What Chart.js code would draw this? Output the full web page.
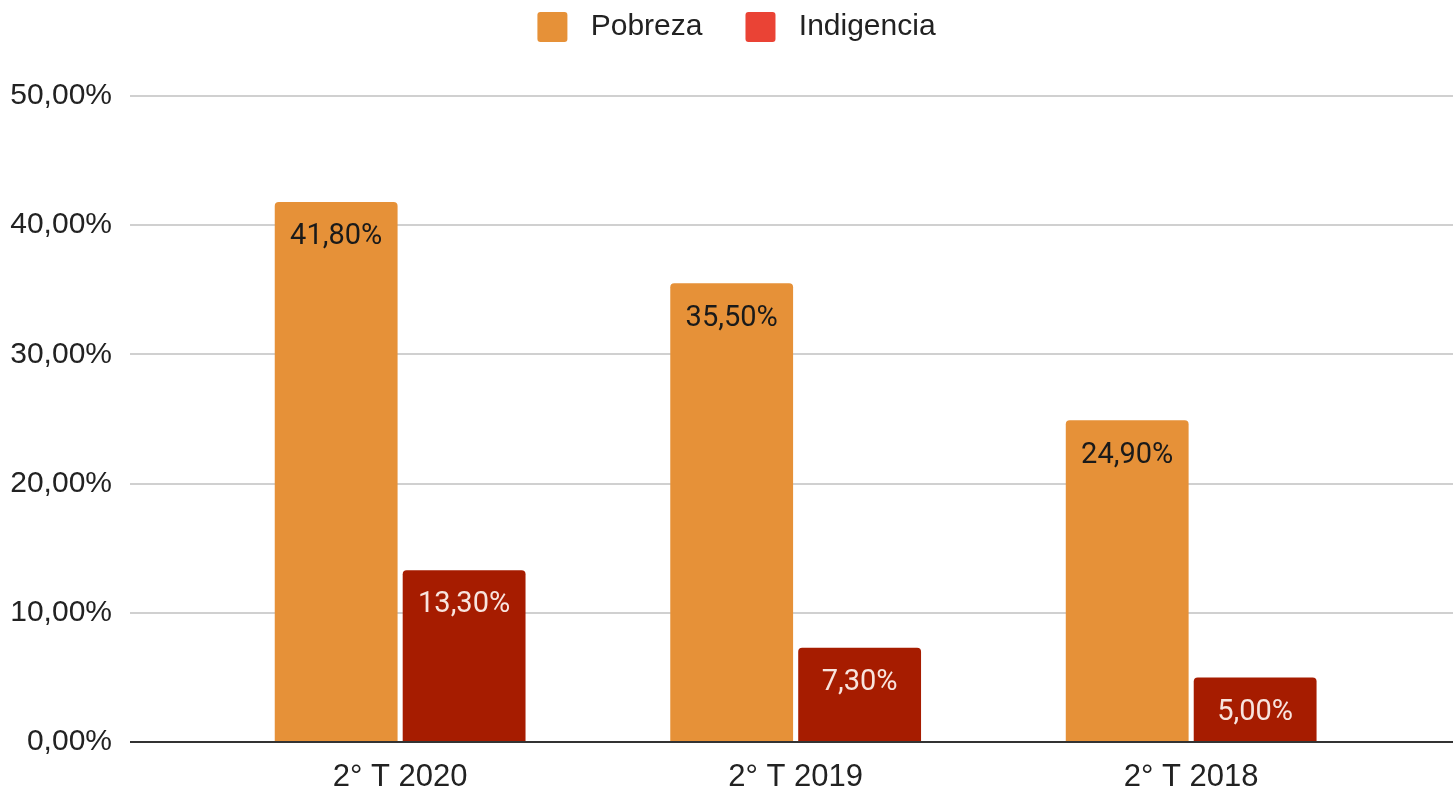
<!DOCTYPE html>
<html>
<head>
<meta charset="utf-8">
<script src="https://cdn.jsdelivr.net/npm/chart.js@4.4.1/dist/chart.umd.min.js"></script>
<style>
  html,body{margin:0;padding:0;background:#fff}
  #wrap{width:1453px;height:790px}
</style>
</head>
<body>
<div id="wrap"><canvas id="grafico"></canvas></div>
<script>
// ===== DADOS =====
const periodos = ["2° T 2020", "2° T 2019", "2° T 2018"];
const pobreza = [41.8, 35.5, 24.9];
const indigencia = [13.3, 7.3, 5.0];
const series = ["Pobreza", "Indigencia"];
const ticksY = [0, 10, 20, 30, 40, 50];

// ===== CORES =====
const coresBarras = ["#e69138", "#a61c00"];
const coresLegenda = ["#e69138", "#ea4335"];
const coresTexto = ["#1a1a1a", "#f8e4de"];
const fonte = "'Liberation Sans', Arial, sans-serif";

function fmt(v){ return v.toFixed(2).replace(".", ",") + "%"; }

// rótulos de valor dentro do topo de cada barra
const rotulos = {
  id: "rotulos",
  afterDatasetsDraw(chart){
    const ctx = chart.ctx;
    chart.data.datasets.forEach((ds, i)=>{
      chart.getDatasetMeta(i).data.forEach((bar, j)=>{
        ctx.save();
        ctx.font = "29px Roboto";
        ctx.fillStyle = coresTexto[i];
        ctx.textAlign = "center";
        ctx.textBaseline = "middle";
        ctx.fillText(fmt(ds.data[j].y), bar.x, bar.y + 35);
        ctx.restore();
      });
    });
  }
};

// altura fixa da legenda (espaço até a área do gráfico) e leve deslocamento à direita
const ajusteLegenda = {
  id: "ajusteLegenda",
  afterInit(chart){
    const lg = chart.legend;
    const fitOrig = lg.fit.bind(lg);
    lg.fit = function(){ fitOrig(); this.height = 127; };
  },
  afterLayout(chart){
    chart.legend.left += 10;
    chart.legend.right += 10;
  }
};

function montarDados(valores){
  return valores.map((v, j)=>({x: j, y: v}));
}

new Chart(document.getElementById("grafico"), {
  type: "bar",
  data: {
    datasets: [
      { label: series[0], data: montarDados(pobreza), backgroundColor: coresBarras[0] },
      { label: series[1], data: montarDados(indigencia), backgroundColor: coresBarras[1] }
    ]
  },
  options: {
    responsive: true,
    maintainAspectRatio: false,
    animation: false,
    categoryPercentage: 0.647,
    barPercentage: 0.96,
    datasets: {
      bar: { borderRadius: {topLeft: 4, topRight: 4, bottomLeft: 0, bottomRight: 0}, borderSkipped: "start" }
    },
    layout: { padding: {top: -31, right: 0, bottom: 0, left: 0} },
    plugins: {
      tooltip: { enabled: false },
      legend: {
        position: "top",
        labels: {
          boxWidth: 30,
          boxHeight: 30,
          useBorderRadius: true,
          borderRadius: 3,
          padding: 43,
          color: "#222",
          font: { family: fonte, size: 30 },
          generateLabels(chart){
            const itens = Chart.defaults.plugins.legend.labels.generateLabels(chart);
            itens.forEach((it, i)=>{
              it.text = " " + it.text;
              it.fillStyle = coresLegenda[i];
              it.strokeStyle = coresLegenda[i];
              it.lineWidth = 0;
            });
            return itens;
          }
        }
      }
    },
    scales: {
      x: {
        type: "linear",
        offset: false,
        min: -0.683,
        max: 2.662,
        afterBuildTicks(axis){ axis.ticks = periodos.map((p, i)=>({value: i})); },
        afterFit(axis){ axis.height = 48; },
        ticks: {
          callback: v => periodos[v],
          color: "#222",
          padding: 9,
          font: { family: fonte, size: 31 }
        },
        grid: { display: false },
        border: { display: false }
      },
      y: {
        min: 0,
        max: 50,
        afterBuildTicks(axis){ axis.ticks = ticksY.map(v=>({value: v})); },
        afterFit(axis){ axis.width = 130; },
        ticks: {
          callback: v => fmt(v),
          color: "#222",
          padding: 18,
          font: { family: fonte, size: 30 }
        },
        grid: {
          drawTicks: false,
          lineWidth: 2,
          color: c => c.tick && c.tick.value === 0 ? "#333" : "#d0d0d0"
        },
        border: { display: false }
      }
    }
  },
  plugins: [rotulos, ajusteLegenda]
});
</script>
</body>
</html>
